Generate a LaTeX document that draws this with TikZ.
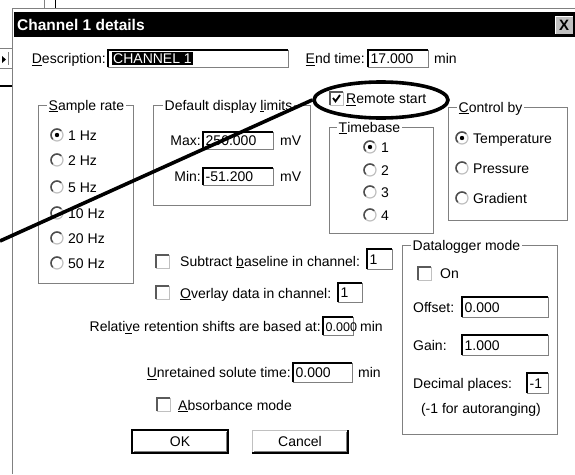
\documentclass[tikz,border=0pt]{standalone}
\usepackage{fontspec}
\setmainfont{Liberation Sans}
\usetikzlibrary{shapes.geometric}
\definecolor{wingray}{RGB}{128,128,128}
\definecolor{winsilver}{RGB}{192,192,192}
\newcommand{\mn}[1]{\underline{#1}}

\begin{document}
\begin{tikzpicture}[x=1pt,y=-1pt,
  font=\fontsize{14}{16}\selectfont,
  lbl/.style={anchor=west,inner sep=0pt,text height=10pt,text depth=0pt},
  rlbl/.style={lbl,anchor=east},
  grptitle/.style={lbl,fill=white,inner xsep=1.5pt},
  frame/.style={draw=wingray,line width=1pt},
  ring/.style={line width=3.6pt}]
\useasboundingbox (0,0) rectangle (575,474);
\fill[white] (0,0) rectangle (575,474);
% Window behind the dialog
\draw[wingray, line width=1pt] (44,0) -- (44,8);
\draw[line width=1pt] (55,0) -- (55,8);
\draw[wingray] (0,48) -- (12,48);
\draw[wingray] (0,68) -- (12,68);
\draw[wingray] (8,52) -- (8,65);
\fill (2,56) -- (6,59.5) -- (2,63) -- cycle;
\draw[line width=1.5pt] (0,86) -- (12,86);
% Dialog frame and title bar
\draw[wingray, line width=1pt] (12,474) -- (12,8) -- (575,8);
\fill[black] (14,12) rectangle (575,37);
\node[anchor=west, inner sep=0pt, text=white, font=\fontsize{15.5}{17}\selectfont\bfseries] (title) at (17,25) {Channel 1 details};
% Close button
\fill[winsilver] (555,16) rectangle (573,34);
\draw[white] (555,34) -- (555,16) -- (573,16);
\draw[line width=1pt] (555,34) -- (573,34) -- (573,16);
\node[inner sep=0pt, font=\fontsize{15}{16}\selectfont\bfseries] (close) at (564,25) {X};
% Group boxes
\foreach \nm/\xa/\ya/\xb/\yb/\tx/\txt in {rate/38/105/133/283/47/{\mn{S}ample rate},
    limits/153/105/310/205/163/{Default display \mn{l}imits},
    tbase/329/127/433/233/337/{\mn{T}imebase},
    ctrl/448/107/567/220/457/{\mn{C}ontrol by},
    dlog/402/245/557/434/411/{Datalogger mode}}{
  \draw[frame] (\xa,\ya) rectangle (\xb,\yb);
  \node[grptitle] (\nm) at (\tx,\ya) {\txt};
}
% Edit fields
\foreach \nm/\xa/\ya/\xb/\yb/\val in {desc/108/50/288/67/{}, endt/368/50/428/67/17.000,
    vmax/203/132/273/149/250.000, vmin/203/168/273/185/-51.200,
    subch/367/249/392/269/1, ovch/338/283/362/302/1,
    shift/323/317/353/335/{\fontsize{12.5}{14}\selectfont 0.000}, unret/293/363/352/382/0.000,
    offs/462/297/548/317/0.000, gain/462/335/548/355/1.000,
    decp/527/373/548/393/-1}{
  \fill[white] (\xa,\ya) rectangle (\xb,\yb);
  \draw[wingray, line width=1pt] (\xa,\ya) rectangle (\xb,\yb);
  \draw[line width=1.6pt] (\xa,\yb) -- (\xa,\ya) -- (\xb,\ya);
  \node[lbl] (\nm) at ({\xa+2.5},{(\ya+\yb)/2}) {\val};
}
\node[lbl, fill=black, text=white, inner xsep=1pt, inner ysep=1.5pt] (descsel) at (112,58.5) {CHANNEL 1};
% Check boxes
\foreach \nm/\xa/\ya in {remote/330/92, subb/156/255, ovl/156/286, absb/157/398, dlon/418/267}{
  \draw[winsilver, line width=1pt] (\xa,\ya) rectangle ({\xa+13},{\ya+13});
  \draw[wingray!70!black, line width=1.5pt] (\xa,{\ya+13}) -- (\xa,\ya) -- ({\xa+13},\ya);
  \coordinate (\nm) at ({\xa+6.5},{\ya+6.5});
}
\draw[line width=1.8pt] ([shift={(-3.5,-0.5)}]remote) -- ([shift={(-1,2.8)}]remote) -- ([shift={(3.5,-3.5)}]remote);
% Radio buttons
\foreach \nm/\cx/\cy/\txt in {rate1/57/135/1 Hz, rate2/57/160/2 Hz, rate5/57/187/5 Hz,
    rate10/57/213/10 Hz, rate20/57/238/20 Hz, rate50/57/263/50 Hz,
    tb1/370/147/1, tb2/370/170/2, tb3/370/192/3, tb4/370/215/4,
    ctemp/462/138/Temperature, cpres/462/168/Pressure, cgrad/462/198/Gradient}{
  \draw[winsilver, line width=1.2pt] (\cx,\cy) circle (6);
  \draw[wingray!60!black, line width=1.5pt] ([shift={(135:6)}]\cx,\cy) arc (135:315:6);
  \node[lbl] (\nm) at ({\cx+11},\cy) {\txt};
}
\foreach \cx/\cy in {57/135, 370/147, 462/138}
  \fill (\cx,\cy) circle (2.2);
% Labels
\node[rlbl] (ldesc) at (106,58.5) {\mn{D}escription:};
\node[rlbl] (lend) at (365,58.5) {\mn{E}nd time:};
\node[lbl] (lendu) at (434,58.5) {min};
\node[rlbl] (lmax) at (201,140.5) {Max:};
\node[lbl] (lmaxu) at (280,140.5) {mV};
\node[rlbl] (lmin) at (201,176.5) {Min:};
\node[lbl] (lminu) at (280,176.5) {mV};
\node[lbl] (lrem) at (346,98.5) {\mn{R}emote start};
\node[lbl] (lsub) at (180,261) {Subtract \mn{b}aseline in channel:};
\node[lbl] (lovl) at (180,293) {\mn{O}verlay data in channel:};
\node[rlbl] (lshift) at (321,326.5) {Relati\mn{v}e retention shifts are based at:};
\node[lbl] (lshiftu) at (360,326.5) {min};
\node[rlbl] (lunret) at (291,372.5) {\mn{U}nretained solute time:};
\node[lbl] (lunretu) at (358,372.5) {min};
\node[lbl] (labs) at (178,405) {\mn{A}bsorbance mode};
\node[lbl] (lon) at (440,273.5) {On};
\node[lbl] (loff) at (413,307) {Offset:};
\node[lbl] (lgain) at (413,345) {Gain:};
\node[lbl] (ldec) at (413,383) {Decimal places:};
\node[inner sep=0pt] (lauto) at (481,410) {(-1 for autoranging)};
% Buttons
\draw[line width=2pt] (132,430) rectangle (228,453);
\draw[wingray] (134,451) -- (226,451) -- (226,432);
\node[inner sep=0pt] (okbtn) at (180,441.5) {OK};
\draw[winsilver] (252,453) -- (252,430) -- (348,430);
\draw[line width=1.2pt] (252,453) -- (348,453) -- (348,430);
\draw[wingray] (254,451) -- (346,451) -- (346,432);
\node[inner sep=0pt] (cancelbtn) at (300,441.5) {Cancel};
% Ring round the remote start option
\node[ellipse, draw, ring, minimum width=134, minimum height=36, inner sep=0pt] (rsring) at (381,100) {};
\coordinate (callend) at (0,241);
\draw[ring] (rsring.west) -- (callend);
\end{tikzpicture}
\end{document}
